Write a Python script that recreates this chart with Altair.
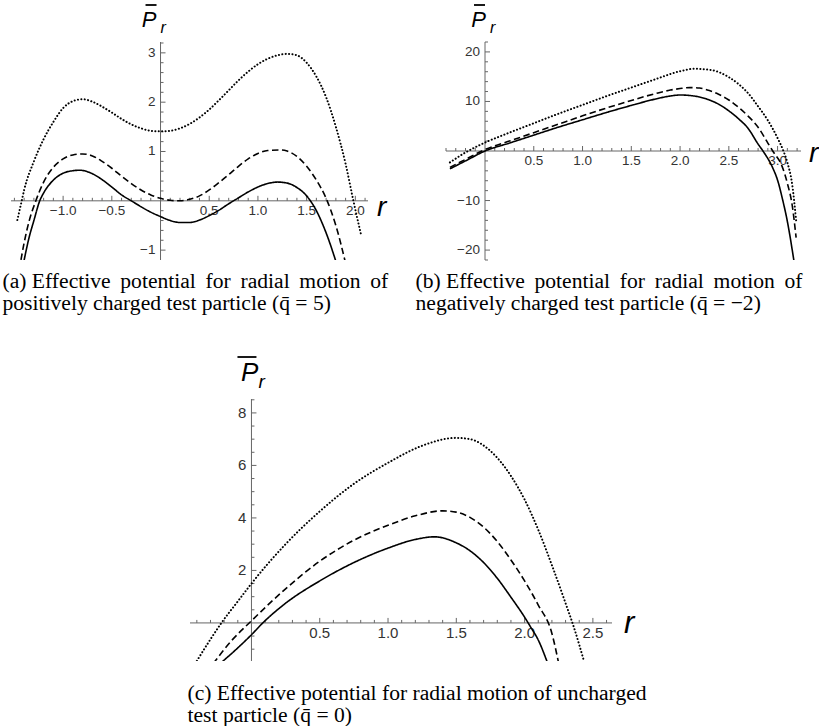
import altair as alt
import numpy as np
import pandas as pd

MINUS = "\u2212"
AXIS_COLOR = "#666666"
LABEL_COLOR = "#333333"
SANS = "Liberation Sans"
SERIF = "Liberation Serif"

# ---------- panel (a): positively charged particle, q = 5 ----------
A_SOLID_R = [-1.42, -1.35, -1.3, -1.24, -1.2, -1.1, -1.0, -0.9, -0.83, -0.7, -0.6, -0.5, -0.4, -0.3,
             -0.2, -0.1, 0.0, 0.1, 0.2, 0.3, 0.4, 0.5, 0.6, 0.7, 0.8, 0.9, 1.0, 1.1, 1.2, 1.3, 1.4,
             1.5, 1.6, 1.7, 1.82]
A_SOLID_P = [-1.4, -0.75, -0.4, 0.0, 0.16, 0.42, 0.56, 0.61, 0.62, 0.55, 0.43, 0.28, 0.12, 0.0,
             -0.12, -0.23, -0.32, -0.4, -0.44, -0.44, -0.39, -0.3, -0.19, -0.06, 0.06, 0.18, 0.28,
             0.35, 0.38, 0.36, 0.27, 0.1, -0.2, -0.65, -1.35]
A_DASH_R = [-1.45, -1.4, -1.35, -1.28, -1.2, -1.1, -1.0, -0.9, -0.8, -0.7, -0.6, -0.5, -0.4, -0.3,
            -0.2, -0.1, 0.0, 0.1, 0.2, 0.3, 0.4, 0.5, 0.6, 0.7, 0.8, 0.9, 1.0, 1.1, 1.24, 1.3, 1.4,
            1.5, 1.6, 1.7, 1.8, 1.91]
A_DASH_P = [-1.4, -0.85, -0.42, 0.0, 0.38, 0.68, 0.85, 0.93, 0.95, 0.91, 0.8, 0.66, 0.5, 0.35,
            0.22, 0.12, 0.05, 0.01, 0.0, 0.03, 0.1, 0.22, 0.37, 0.53, 0.7, 0.85, 0.96, 1.02, 1.03,
            1.01, 0.9, 0.7, 0.42, 0.05, -0.5, -1.35]
A_DOT_R = [-1.47, -1.425, -1.4, -1.3, -1.2, -1.1, -1.0, -0.9, -0.8, -0.7, -0.6, -0.5, -0.4, -0.3,
           -0.2, -0.1, 0.0, 0.1, 0.2, 0.3, 0.4, 0.5, 0.6, 0.7, 0.8, 0.9, 1.0, 1.1, 1.2, 1.3, 1.4,
           1.5, 1.6, 1.7, 1.8, 1.9, 1.98, 2.06]
A_DOT_P = [-0.39, 0.0, 0.22, 0.8, 1.25, 1.6, 1.88, 2.02, 2.06, 2.01, 1.91, 1.79, 1.66, 1.55,
           1.47, 1.42, 1.41, 1.42, 1.47, 1.56, 1.69, 1.85, 2.04, 2.24, 2.44, 2.62, 2.77, 2.88,
           2.95, 2.98, 2.95, 2.8, 2.52, 2.1, 1.5, 0.75, 0.0, -0.7]
A_XTICKS = [-1.0, -0.5, 0.5, 1.0, 1.5, 2.0]
A_XLABELS = [MINUS + "1.0", MINUS + "0.5", "0.5", "1.0", "1.5", "2.0"]
A_YTICKS = [-1, 1, 2, 3]
A_YLABELS = [MINUS + "1", "1", "2", "3"]
A_CAPTION = ["(a) Effective\u2009 potential\u2009 for\u2009 radial\u2009 motion\u2009 of",
             "positively charged test particle (q\u0304 = 5)"]

# ---------- panel (b): negatively charged particle, q = -2 ----------
B_SOLID_R = [-0.36, -0.2, 0.0, 0.25, 0.5, 0.75, 1.0, 1.25, 1.5, 1.75, 1.9, 2.0, 2.1, 2.2, 2.3,
             2.4, 2.5, 2.6, 2.7, 2.8, 2.85, 2.95, 3.0, 3.05, 3.1, 3.17]
B_SOLID_P = [-3.6, -2.0, 0.0, 1.6, 3.2, 4.8, 6.3, 7.8, 9.2, 10.5, 11.1, 11.3, 11.2, 10.9, 10.3,
             9.4, 8.1, 6.5, 4.5, 1.4, 0.0, -3.4, -5.9, -9.7, -14.2, -22.5]
B_DASH_R = [-0.36, -0.2, 0.0, 0.25, 0.5, 0.75, 1.0, 1.25, 1.5, 1.75, 1.9, 2.0, 2.1, 2.2, 2.3,
            2.4, 2.5, 2.6, 2.7, 2.8, 2.9, 2.95, 3.05, 3.1, 3.15, 3.19]
B_DASH_P = [-3.3, -1.7, 0.3, 2.0, 3.7, 5.4, 7.1, 8.7, 10.2, 11.6, 12.3, 12.6, 12.8, 12.7, 12.2,
            11.4, 10.3, 8.8, 7.0, 4.8, 1.6, 0.0, -3.3, -6.5, -11.0, -17.5]
B_DOT_R = [-0.36, -0.2, 0.0, 0.25, 0.5, 0.75, 1.0, 1.25, 1.5, 1.75, 2.0, 2.15, 2.3, 2.4, 2.5,
           2.6, 2.7, 2.8, 2.9, 3.0, 3.06, 3.1, 3.15, 3.19]
B_DOT_P = [-2.3, -0.3, 1.7, 3.7, 5.6, 7.5, 9.3, 11.1, 12.8, 14.5, 16.1, 16.6, 16.4, 15.9, 14.9,
           13.5, 11.6, 9.0, 6.2, 2.6, 0.0, -2.3, -6.8, -14.0]
B_XTICKS = [0.5, 1.0, 1.5, 2.0, 2.5, 3.0]
B_XLABELS = ["0.5", "1.0", "1.5", "2.0", "2.5", "3.0"]
B_YTICKS = [-20, -10, 10, 20]
B_YLABELS = [MINUS + "20", MINUS + "10", "10", "20"]
B_CAPTION = ["(b) Effective\u2009 potential\u2009 for\u2009 radial\u2009 motion\u2009 of",
             "negatively charged test particle (q\u0304 = " + MINUS + "2)"]

# ---------- panel (c): uncharged particle, q = 0 ----------
C_SOLID_R = [-0.23, -0.1, 0.0, 0.083, 0.25, 0.5, 0.75, 1.0, 1.2, 1.34, 1.5, 1.6, 1.7, 1.8, 1.9,
             2.0, 2.04, 2.1, 2.17]
C_SOLID_P = [-1.55, -0.95, -0.45, 0.0, 0.75, 1.6, 2.3, 2.85, 3.18, 3.28, 3.05, 2.75, 2.3, 1.7,
             0.98, 0.22, -0.12, -0.65, -1.55]
C_DASH_R = [-0.28, -0.15, 0.0, 0.25, 0.5, 0.75, 1.0, 1.2, 1.4, 1.5, 1.6, 1.7, 1.8, 1.9, 2.0, 2.1,
            2.2, 2.25]
C_DASH_P = [-1.55, -0.7, 0.08, 1.3, 2.35, 3.15, 3.72, 4.08, 4.27, 4.22, 4.02, 3.65, 3.1, 2.4,
            1.6, 0.68, -0.4, -1.55]
C_DOT_R = [-0.4, -0.3, -0.22, -0.1, 0.0, 0.25, 0.5, 0.75, 1.0, 1.25, 1.5, 1.6, 1.75, 1.9, 2.0,
           2.1, 2.2, 2.3, 2.36, 2.44]
C_DOT_P = [-1.45, -0.62, 0.0, 0.82, 1.5, 3.0, 4.25, 5.3, 6.1, 6.75, 7.05, 7.0, 6.55, 5.6, 4.7,
           3.55, 2.2, 0.75, -0.15, -1.55]
C_XTICKS = [0.5, 1.0, 1.5, 2.0, 2.5]
C_XLABELS = ["0.5", "1.0", "1.5", "2.0", "2.5"]
C_YTICKS = [2, 4, 6, 8]
C_YLABELS = ["2", "4", "6", "8"]
C_CAPTION = ["(c) Effective potential for radial motion of uncharged",
             "test particle (q\u0304 = 0)"]


def minor_ticks(lo, hi, step, majors):
    vals = np.round(np.arange(np.ceil(lo / step) * step, hi + 1e-9, step), 4)
    return [float(v) for v in vals if abs(v) > 1e-9 and all(abs(v - m) > 1e-9 for m in majors)]


def panel(curves, xdom, ydom, w, h, xticks, xlabels, yticks, ylabels, xstep, ystep,
          caption, cap_dx, cap_offset, tick_fs, p_fs, r_fs, p_dx, p_dy, sub_dx, sub_dy,
          bar, r_dx, r_dy):
    xs = alt.Scale(domain=xdom, nice=False, zero=False)
    ys = alt.Scale(domain=ydom, nice=False, zero=False)

    def X(f):
        return alt.X(f, type="quantitative", scale=xs, axis=None)

    def Y(f):
        return alt.Y(f, type="quantitative", scale=ys, axis=None)

    top = pd.DataFrame({"x": [0.0], "y": [ydom[1]]})
    end = pd.DataFrame({"x": [xdom[1]], "y": [0.0]})

    layers = []
    # axis lines crossing at the origin
    layers.append(alt.Chart(pd.DataFrame({"x0": [xdom[0]], "x1": [xdom[1]], "y": [0.0]}))
                  .mark_rule(color=AXIS_COLOR, strokeWidth=1)
                  .encode(x=X("x0"), x2=alt.X2("x1"), y=Y("y")))
    layers.append(alt.Chart(pd.DataFrame({"x": [0.0], "y0": [ydom[0]], "y1": [ydom[1]]}))
                  .mark_rule(color=AXIS_COLOR, strokeWidth=1)
                  .encode(x=X("x"), y=Y("y0"), y2=alt.Y2("y1")))
    # tick marks
    for vals, length in ((xticks, 5), (minor_ticks(xdom[0], xdom[1], xstep, xticks), 3)):
        d = pd.DataFrame({"v": vals, "z": [0.0] * len(vals)})
        layers.append(alt.Chart(d)
                      .mark_rule(color=AXIS_COLOR, strokeWidth=1, y2Offset=-length)
                      .encode(x=X("v"), y=Y("z"), y2=alt.Y2("z")))
    for vals, length in ((yticks, 5), (minor_ticks(ydom[0], ydom[1], ystep, yticks), 3)):
        d = pd.DataFrame({"v": vals, "z": [0.0] * len(vals)})
        layers.append(alt.Chart(d)
                      .mark_rule(color=AXIS_COLOR, strokeWidth=1, x2Offset=length)
                      .encode(y=Y("v"), x=X("z"), x2=alt.X2("z")))
    # tick labels
    layers.append(alt.Chart(pd.DataFrame({"v": xticks, "z": [0.0] * len(xticks), "t": xlabels}))
                  .mark_text(baseline="top", dy=3, font=SANS, fontSize=tick_fs, color=LABEL_COLOR)
                  .encode(x=X("v"), y=Y("z"), text="t:N"))
    layers.append(alt.Chart(pd.DataFrame({"v": yticks, "z": [0.0] * len(yticks), "t": ylabels}))
                  .mark_text(align="right", baseline="middle", dx=-5, font=SANS,
                             fontSize=tick_fs, color=LABEL_COLOR)
                  .encode(y=Y("v"), x=X("z"), text="t:N"))

    # curves
    styles = {
        "solid": dict(strokeDash=[1, 0], strokeCap="butt", strokeWidth=1.6),
        "dashed": dict(strokeDash=[6.5, 3.5], strokeCap="butt", strokeWidth=1.6),
        "dotted": dict(strokeDash=[0.1, 3.3], strokeCap="round", strokeWidth=2.0),
    }
    for name, (rs, ps) in curves.items():
        df = pd.DataFrame({"r": rs, "P": ps, "i": list(range(len(rs)))})
        layers.append(alt.Chart(df)
                      .mark_line(clip=True, interpolate="monotone", color="black", **styles[name])
                      .encode(x=X("r"), y=Y("P"), order="i:Q"))

    # axis names: P with an overbar and subscript r, and r at the end of the horizontal axis
    layers.append(alt.Chart(top)
                  .mark_text(text="P", align="right", baseline="alphabetic", font=SANS,
                             fontStyle="italic", fontSize=p_fs, color="black", dx=p_dx, dy=p_dy)
                  .encode(x=X("x"), y=Y("y")))
    layers.append(alt.Chart(top)
                  .mark_text(text="r", align="left", baseline="alphabetic", font=SANS,
                             fontStyle="italic", fontSize=round(p_fs * 0.72), color="black",
                             dx=sub_dx, dy=sub_dy)
                  .encode(x=X("x"), y=Y("y")))
    layers.append(alt.Chart(top)
                  .mark_rule(color="black", strokeWidth=1.8, xOffset=bar[0], x2Offset=bar[1],
                             yOffset=bar[2], y2Offset=bar[2])
                  .encode(x=X("x"), x2=alt.X2("x"), y=Y("y"), y2=alt.Y2("y")))
    layers.append(alt.Chart(end)
                  .mark_text(text="r", align="left", baseline="alphabetic", font=SANS,
                             fontStyle="italic", fontSize=r_fs, color="black", dx=r_dx, dy=r_dy)
                  .encode(x=X("x"), y=Y("y")))

    return alt.layer(*layers).properties(
        width=w, height=h,
        title=alt.TitleParams(text=caption, orient="bottom", anchor="start",
                              font=SERIF, fontSize=21.6, fontWeight="normal", color="black",
                              lineHeight=22.5, baseline="top", offset=cap_offset, dx=cap_dx),
    )


pa = panel({"solid": (A_SOLID_R, A_SOLID_P), "dashed": (A_DASH_R, A_DASH_P),
            "dotted": (A_DOT_R, A_DOT_P)},
           [-1.535, 2.13], [-1.2, 3.22], 357, 218,
           A_XTICKS, A_XLABELS, A_YTICKS, A_YLABELS, 0.1, 0.2,
           A_CAPTION, -8, 10, 13.5, 22, 28, -4, -15, 0, -9, (-15, -4, -37), 9, 15)

pb = panel({"solid": (B_SOLID_R, B_SOLID_P), "dashed": (B_DASH_R, B_DASH_P),
            "dotted": (B_DOT_R, B_DOT_P)},
           [-0.4, 3.24], [-22, 22], 355, 218,
           B_XTICKS, B_XLABELS, B_YTICKS, B_YLABELS, 0.1, 2,
           B_CAPTION, -30, 10, 13.5, 22, 28, 1, -15, 5, -9, (-11, 0, -37), 8, 11)

pc = panel({"solid": (C_SOLID_R, C_SOLID_P), "dashed": (C_DASH_R, C_DASH_P),
            "dotted": (C_DOT_R, C_DOT_P)},
           [-0.45, 2.64], [-1.45, 8.53], 422, 262,
           C_XTICKS, C_XLABELS, C_YTICKS, C_YLABELS, 0.1, 0.5,
           C_CAPTION, -2, 21, 15, 26, 31, 7, -18, 7, -11, (-14, 5, -42), 12, 10)

# empty cell that pushes panel (c) towards the middle of the second row
gap = (alt.Chart(pd.DataFrame({"k": [0]}))
       .mark_point(opacity=0)
       .encode(x=alt.value(0), y=alt.value(0))
       .properties(width=176, height=10))

top_row = alt.hconcat(pa, pb, spacing=26)
bottom_row = alt.hconcat(gap, pc, spacing=0)
chart = (alt.vconcat(top_row, bottom_row, spacing=41)
         .properties(padding={"left": 2, "top": 4, "right": 0, "bottom": 0},
                     background="white")
         .configure_view(strokeWidth=0))

chart.save("out.html", embed_options={"renderer": "svg", "actions": False})
